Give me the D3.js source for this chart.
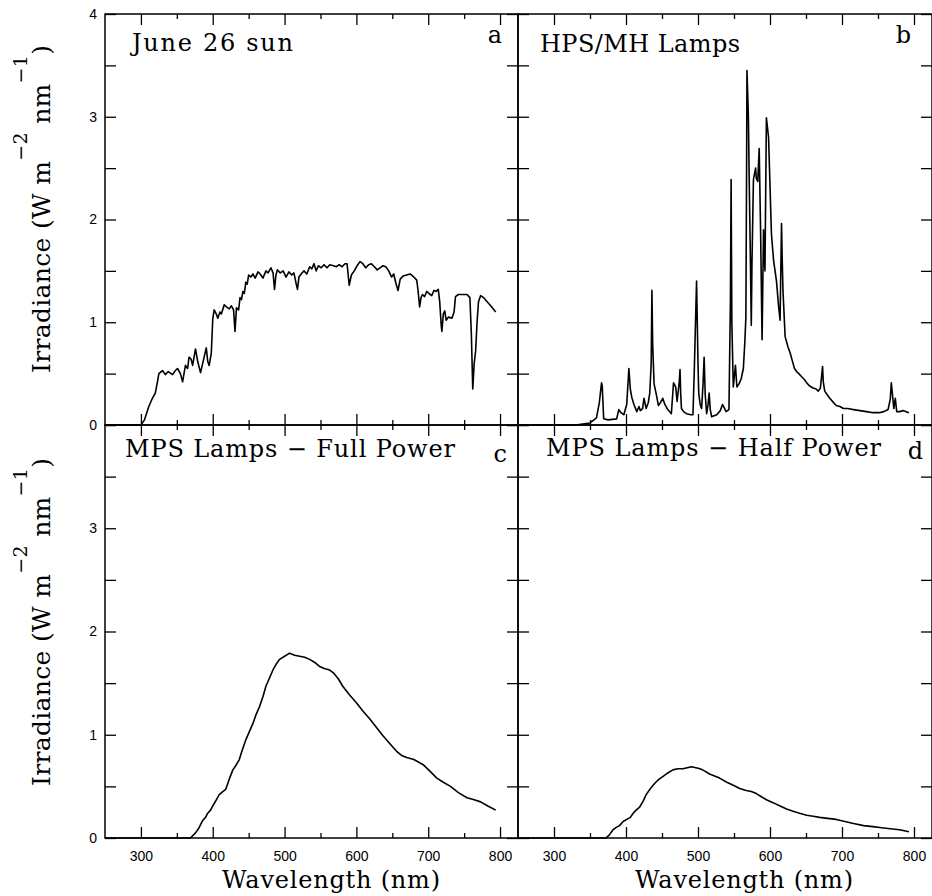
<!DOCTYPE html>
<head>
  <meta charset="utf-8">
  <script src="https://d3js.org/d3.v7.min.js"></script>
  <style>
    body { margin:0; background:#fff; }

    .frame {
      fill: none;
      stroke: #000;
      stroke-width: 1.5;
    }

    .spectrum {
      fill: none;
      stroke: #000;
      stroke-width: 1.6;
      stroke-linejoin: round;
    }

    .tick line {
      stroke: #000;
      stroke-width: 1.3;
    }

    .tick text {
      font-family: "Liberation Sans", sans-serif;
      font-size: 14px;
      fill: #000;
    }

    .label {
      font-family: "DejaVu Serif", serif;
      font-size: 24px;
      fill: #000;
    }
  </style>
</head>

<body>
  <script>
    // wavelength (nm), irradiance (W m-2 nm-1)
    var sunSpectrum = [[250,0],[300,0],[305,0.05],[311,0.18],[316,0.26],[320,0.31],[323,0.42],[325,0.5],[330,0.53],[334,0.49],[338,0.52],[344,0.49],[348,0.53],[351,0.55],[355,0.5],[358,0.42],[362,0.58],[365,0.55],[367,0.66],[370,0.64],[372,0.58],[376,0.74],[379,0.62],[383,0.51],[386,0.6],[388,0.66],[391,0.75],[393,0.62],[395,0.58],[398,0.7],[400,1.03],[402,1.12],[405,1.08],[407,1.04],[410,1.1],[412,1.08],[416,1.17],[419,1.15],[423,1.13],[426,1.16],[429,1.12],[431,0.91],[433,1.14],[436,1.12],[438,1.24],[440,1.22],[442,1.3],[444,1.28],[446,1.39],[448,1.37],[450,1.46],[453,1.44],[456,1.47],[459,1.43],[463,1.49],[466,1.47],[470,1.43],[474,1.5],[477,1.48],[481,1.53],[484,1.48],[486,1.32],[488,1.46],[490,1.51],[494,1.48],[498,1.5],[502,1.44],[506,1.49],[510,1.46],[513,1.48],[516,1.38],[518,1.32],[520,1.44],[523,1.47],[527,1.5],[531,1.47],[535,1.54],[538,1.52],[541,1.57],[544,1.5],[547,1.55],[551,1.53],[555,1.56],[559,1.53],[563,1.56],[568,1.55],[572,1.54],[576,1.56],[580,1.54],[584,1.57],[587,1.57],[590,1.36],[593,1.46],[597,1.5],[601,1.55],[605,1.59],[609,1.57],[613,1.53],[617,1.56],[621,1.57],[625,1.54],[629,1.51],[633,1.53],[637,1.55],[641,1.54],[645,1.5],[649,1.44],[652,1.47],[655,1.38],[658,1.31],[661,1.42],[665,1.45],[670,1.46],[675,1.47],[680,1.44],[684,1.41],[686,1.3],[688,1.15],[690,1.24],[692,1.27],[695,1.25],[698,1.3],[701,1.28],[705,1.26],[708,1.31],[711,1.3],[714,1.32],[716,1.2],[718,0.98],[719,0.91],[721,1.08],[723,1.11],[725,1.02],[728,1.05],[733,1.04],[736,1.1],[738,1.25],[742,1.27],[748,1.27],[754,1.27],[758,1.24],[760,0.9],[762,0.35],[764,0.6],[766,0.72],[768,1.0],[770,1.2],[773,1.26],[777,1.24],[782,1.2],[787,1.16],[794,1.1]];

    var hpsSpectrum = [[250,0],[330,0],[350,0.02],[359,0.07],[363,0.22],[366,0.41],[367,0.38],[369,0.06],[375,0.05],[387,0.06],[390,0.15],[393,0.12],[397,0.1],[401,0.2],[404,0.55],[406,0.35],[408,0.27],[411,0.2],[415,0.13],[418,0.18],[420,0.14],[423,0.16],[425,0.26],[428,0.16],[431,0.22],[433,0.31],[435,0.6],[436,1.31],[437,0.8],[439,0.4],[442,0.3],[445,0.19],[448,0.22],[451,0.26],[454,0.2],[458,0.15],[463,0.11],[466,0.41],[469,0.37],[471,0.23],[474,0.42],[475,0.54],[476,0.3],[477,0.16],[480,0.13],[484,0.11],[490,0.1],[493,0.1],[495,0.57],[498,1.4],[500,0.6],[501,0.31],[503,0.2],[505,0.16],[507,0.4],[508.5,0.66],[510,0.3],[512,0.11],[514,0.2],[515.5,0.31],[517,0.15],[519,0.08],[526,0.1],[531,0.14],[534,0.2],[537,0.16],[539,0.13],[543,0.15],[545,1.2],[546,2.39],[547,1.0],[549,0.37],[552,0.58],[554,0.37],[557,0.4],[560,0.45],[563,0.55],[565,0.8],[566.5,1.05],[567.5,2.5],[568,3.45],[570,3.0],[571,2.45],[573,1.5],[574,0.97],[575,1.6],[577,2.39],[580,2.5],[581,2.4],[583,2.37],[585,2.69],[587,1.86],[589,0.83],[591,1.9],[593,1.5],[595,2.99],[598,2.8],[602,1.86],[605,1.6],[609,1.4],[612,1.15],[614,1.02],[615,1.5],[616,1.96],[617,1.6],[618,1.31],[621,0.86],[625,0.76],[628,0.7],[632,0.6],[634,0.55],[637,0.52],[640,0.5],[644,0.47],[648,0.44],[651,0.41],[655,0.38],[660,0.36],[664,0.35],[667,0.33],[670,0.36],[672,0.5],[673,0.57],[674,0.42],[676,0.33],[680,0.29],[683,0.26],[688,0.22],[692,0.19],[697,0.18],[702,0.16],[708,0.16],[716,0.15],[725,0.14],[734,0.13],[743,0.12],[752,0.12],[758,0.13],[764,0.15],[767,0.25],[768.5,0.41],[770,0.3],[772,0.16],[774,0.26],[776,0.13],[780,0.13],[785,0.14],[789,0.13],[793,0.12]];

    var mpsFull = [[250,0],[369,0],[376,0.05],[381,0.1],[386,0.17],[390,0.2],[393,0.24],[397,0.27],[400,0.31],[405,0.37],[409,0.42],[414,0.45],[418,0.47],[423,0.57],[428,0.66],[432,0.7],[437,0.76],[441,0.85],[446,0.95],[451,1.03],[456,1.11],[460,1.19],[465,1.27],[470,1.37],[474,1.47],[479,1.55],[484,1.63],[488,1.68],[493,1.73],[500,1.76],[507,1.79],[514,1.77],[521,1.76],[528,1.75],[535,1.73],[542,1.7],[549,1.66],[556,1.64],[562,1.63],[568,1.6],[575,1.54],[581,1.47],[590,1.39],[600,1.31],[609,1.23],[619,1.15],[628,1.07],[637,0.99],[647,0.91],[656,0.84],[663,0.8],[670,0.78],[680,0.76],[693,0.71],[702,0.65],[712,0.58],[721,0.54],[731,0.5],[742,0.44],[754,0.39],[764,0.37],[773,0.35],[783,0.31],[794,0.27]];

    var mpsHalf = [[250,0],[372,0],[377,0.03],[382,0.08],[386,0.1],[391,0.12],[396,0.16],[401,0.18],[406,0.2],[410,0.24],[414,0.27],[419,0.3],[424,0.36],[428,0.42],[434,0.48],[440,0.53],[446,0.57],[452,0.6],[458,0.63],[465,0.66],[472,0.67],[479,0.67],[485,0.68],[491,0.69],[497,0.68],[503,0.67],[509,0.65],[516,0.62],[523,0.6],[530,0.58],[540,0.54],[549,0.51],[558,0.48],[567,0.46],[574,0.45],[581,0.43],[588,0.4],[595,0.37],[605,0.34],[614,0.31],[623,0.28],[632,0.26],[641,0.24],[651,0.22],[660,0.21],[669,0.2],[680,0.19],[692,0.18],[704,0.16],[716,0.14],[730,0.12],[743,0.11],[755,0.1],[767,0.09],[780,0.08],[793,0.06]];

    var xMajor = [300, 400, 500, 600, 700, 800];
    var xMinor = [350, 450, 550, 650, 750];
    var yTicks = [0, 0.5, 1, 1.5, 2, 2.5, 3, 3.5, 4];
    var xDomain = [250, 825];
    var yDomain = [0, 4];

    var panelTitles = ["June 26 sun", "HPS/MH Lamps", "MPS Lamps \u2212 Full Power", "MPS Lamps \u2212 Half Power"];
    var panelLetters = ["a", "b", "c", "d"];

    var width = 932, height = 896;

    // panel grid in page pixels
    var cols = [{x0: 105, x1: 518}, {x0: 518, x1: 932}];
    var rows = [{y0: 14, y1: 425}, {y0: 425, y1: 838}];

    // title offsets / stretched widths, letter offsets
    var panels = [
      {data: sunSpectrum, col: 0, row: 0, tx: 27, ty: 37, tw: 161, lx: 16, ly: 29},
      {data: hpsSpectrum, col: 1, row: 0, tx: 22, ty: 38, tw: 200, lx: 21, ly: 29},
      {data: mpsFull,     col: 0, row: 1, tx: 20, ty: 32, tw: 330, lx: 11, ly: 37},
      {data: mpsHalf,     col: 1, row: 1, tx: 28, ty: 31, tw: 335, lx: 9,  ly: 34}
    ];

    var svg = d3.select("body").append("svg")
      .attr("width", width)
      .attr("height", height);

    var xScales = cols.map(function(c) {
      return d3.scaleLinear().domain(xDomain).range([c.x0, c.x1]);
    });
    var yScales = rows.map(function(r) {
      return d3.scaleLinear().domain(yDomain).range([r.y1, r.y0]);
    });

    panels.forEach(function(p, i) {
      var x = xScales[p.col], y = yScales[p.row];
      var c = cols[p.col], r = rows[p.row];
      var g = svg.append("g");

      var line = d3.line()
        .x(function(d) { return x(d[0]); })
        .y(function(d) { return y(d[1]); });

      g.append("path")
        .datum(p.data)
        .attr("class", "spectrum")
        .attr("d", line);

      // bottom ticks (labels only on lower row)
      var bottom = g.append("g").attr("transform", "translate(0," + r.y1 + ")");
      bottom.append("g").call(d3.axisBottom(x).tickValues(xMajor).tickSize(-11).tickPadding(13)
        .tickFormat(p.row === 1 ? d3.format("d") : ""));
      bottom.append("g").call(d3.axisBottom(x).tickValues(xMinor).tickSize(-5).tickFormat(""));

      var top = g.append("g").attr("transform", "translate(0," + r.y0 + ")");
      top.append("g").call(d3.axisTop(x).tickValues(xMajor).tickSize(-11).tickFormat(""));
      top.append("g").call(d3.axisTop(x).tickValues(xMinor).tickSize(-5).tickFormat(""));

      g.append("g")
        .attr("transform", "translate(" + c.x0 + ",0)")
        .call(d3.axisLeft(y).tickValues(yTicks).tickSize(-11).tickPadding(8)
          .tickFormat(function(d) {
            if (p.col !== 0 || d % 1 !== 0) return "";
            if (p.row === 1 && d === 4) return "";
            return d;
          }));

      g.append("g")
        .attr("transform", "translate(" + c.x1 + ",0)")
        .call(d3.axisRight(y).tickValues(yTicks).tickSize(-11).tickFormat(""));

      g.selectAll(".domain").remove();

      g.append("rect")
        .attr("class", "frame")
        .attr("x", c.x0)
        .attr("y", r.y0)
        .attr("width", c.x1 - c.x0)
        .attr("height", r.y1 - r.y0);

      g.append("text")
        .attr("class", "label")
        .attr("x", c.x0 + p.tx)
        .attr("y", r.y0 + p.ty)
        .attr("textLength", p.tw)
        .attr("lengthAdjust", "spacing")
        .text(panelTitles[i]);

      g.append("text")
        .attr("class", "label")
        .attr("x", c.x1 - p.lx)
        .attr("y", r.y0 + p.ly)
        .attr("text-anchor", "end")
        .text(panelLetters[i]);
    });

    // y axis titles
    rows.forEach(function(r) {
      var t = svg.append("text")
        .attr("class", "label")
        .attr("transform", "translate(50," + (r.y1 - 52) + ") rotate(-90)")
        .attr("textLength", 328)
        .attr("lengthAdjust", "spacing")
        .style("font-size", "25px");
      t.append("tspan").text("Irradiance (W m");
      t.append("tspan").attr("dy", -23).style("font-size", "19px").text("\u22122");
      t.append("tspan").attr("dy", 23).text("  nm");
      t.append("tspan").attr("dy", -23).style("font-size", "19px").text("\u22121");
      t.append("tspan").attr("dy", 23).text(")");
    });

    // x axis titles
    cols.forEach(function(c) {
      svg.append("text")
        .attr("class", "label")
        .attr("x", c.x0 + 117)
        .attr("y", 888)
        .attr("textLength", 218)
        .attr("lengthAdjust", "spacing")
        .text("Wavelength (nm)");
    });
  </script>
</body>
